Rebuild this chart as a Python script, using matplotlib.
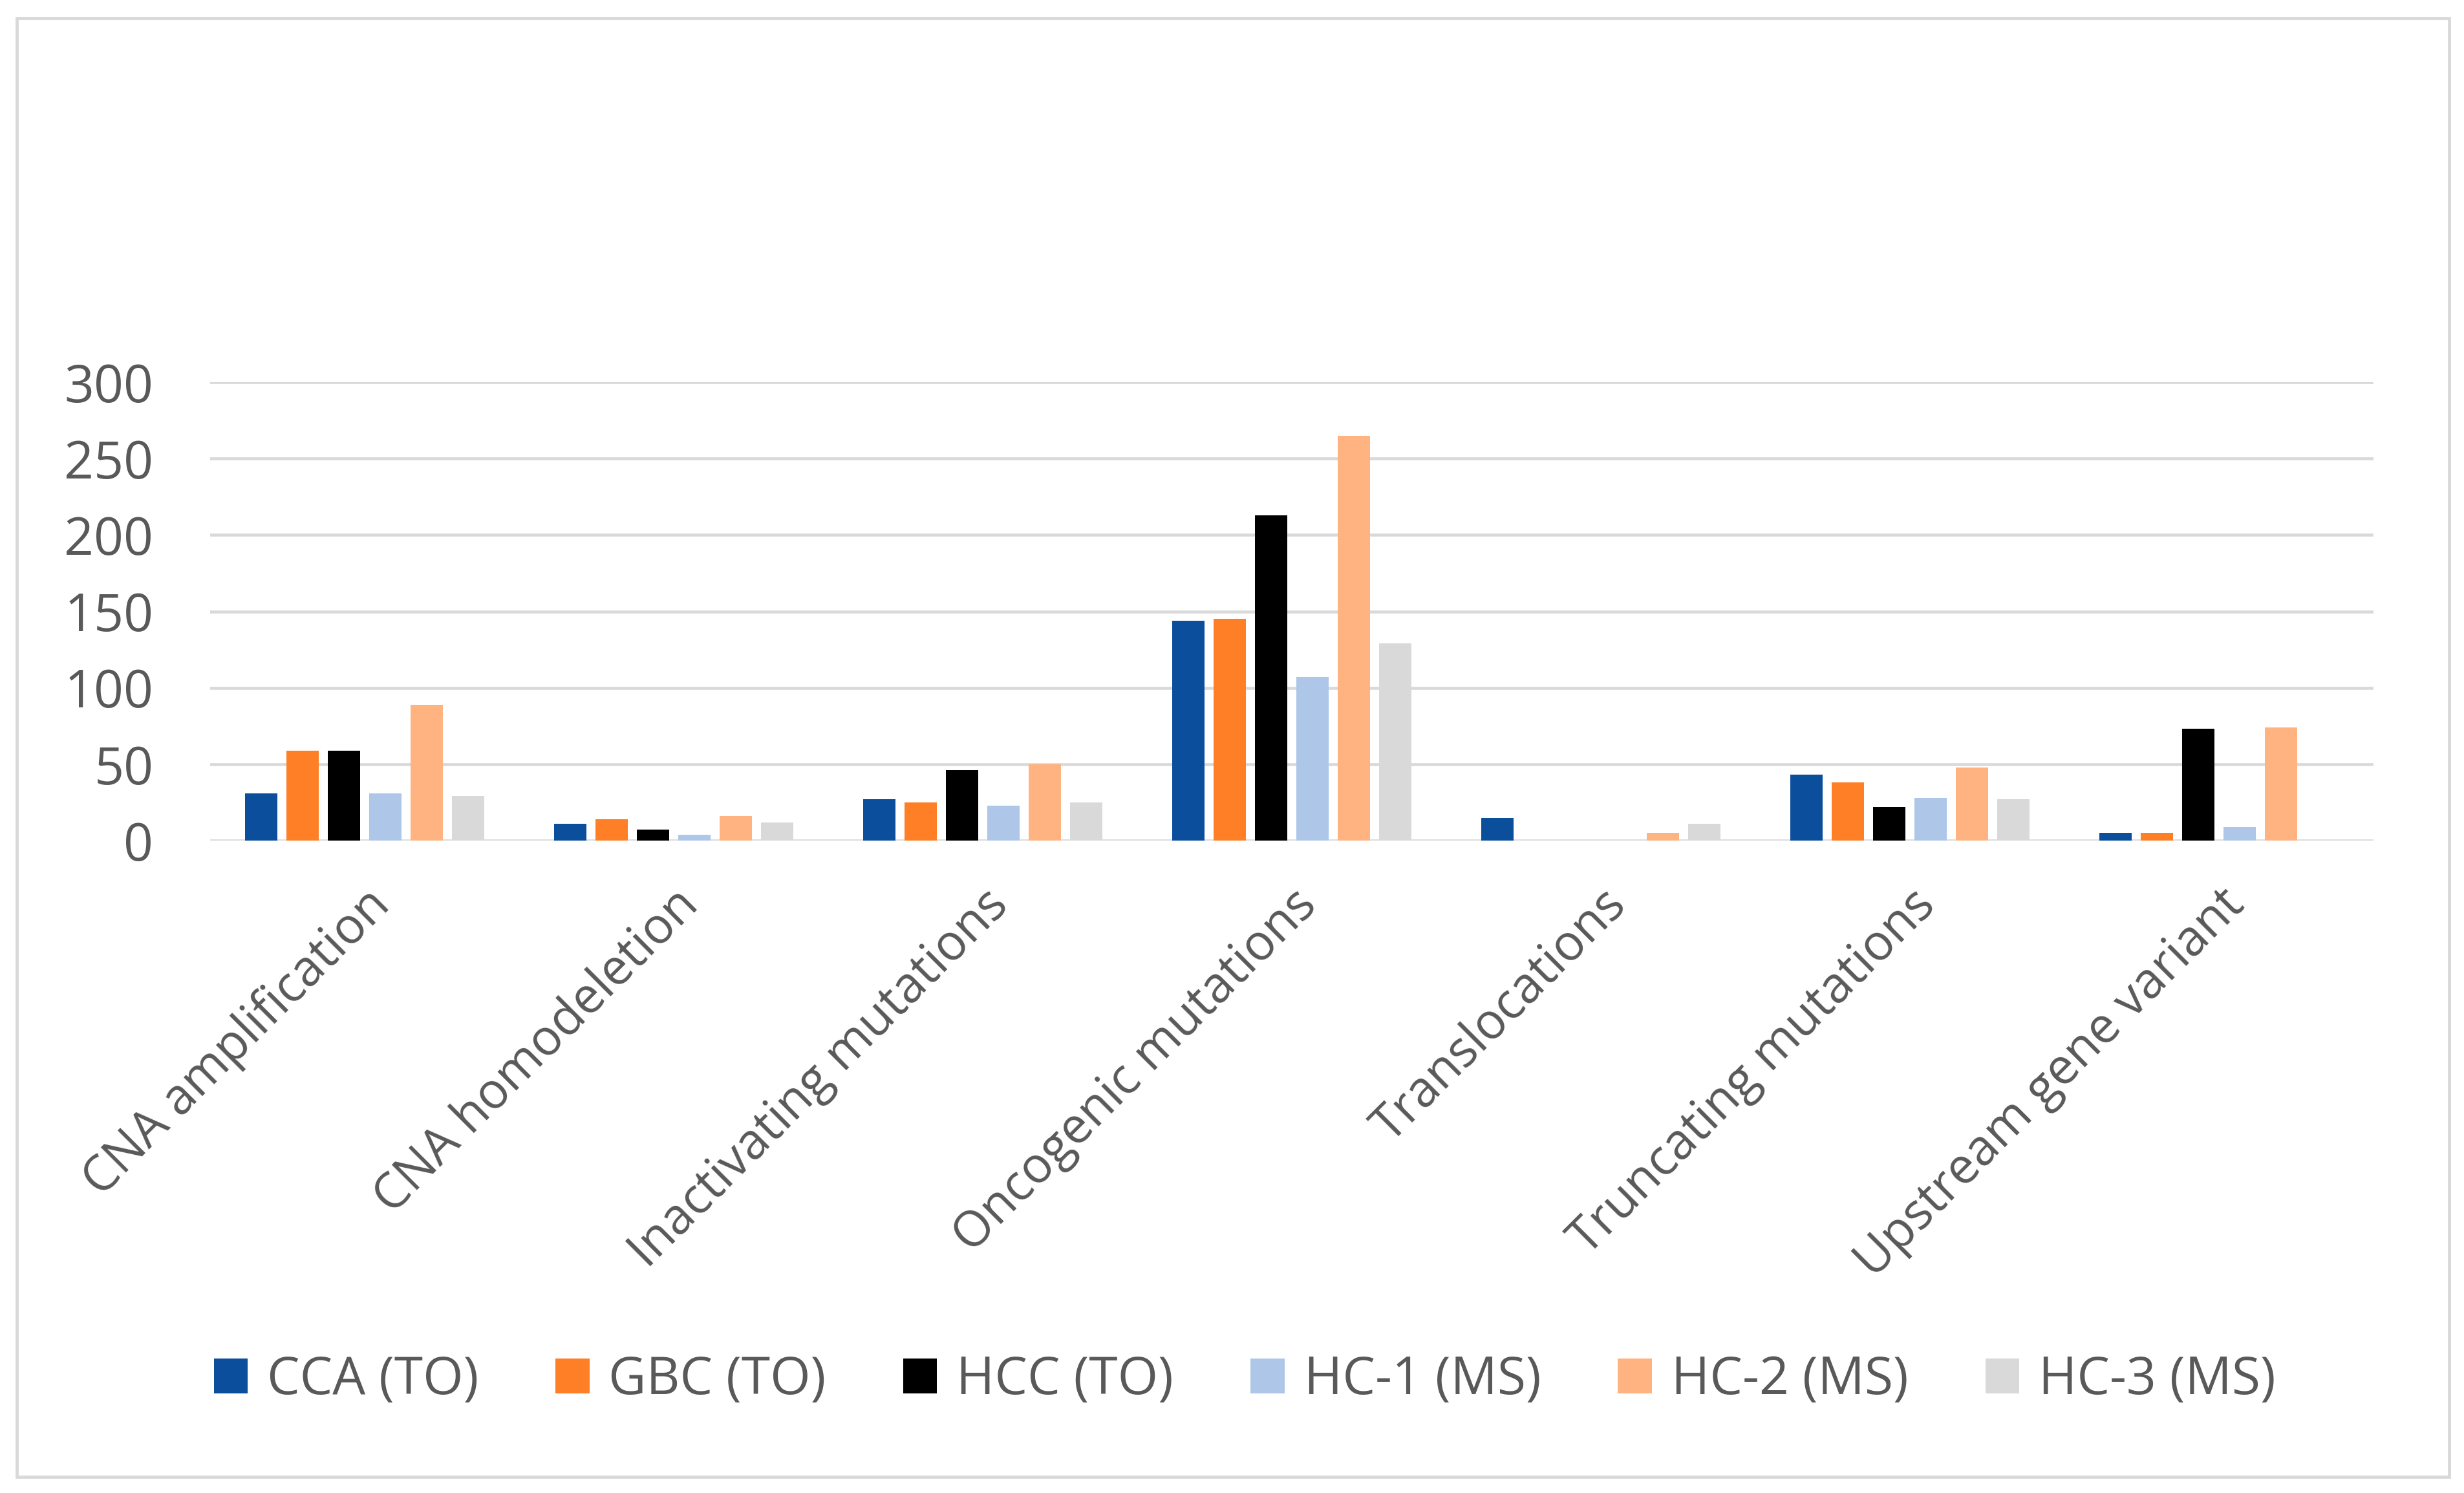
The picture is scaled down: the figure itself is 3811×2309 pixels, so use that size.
import matplotlib
matplotlib.use('Agg')
import matplotlib.pyplot as plt
from matplotlib.patches import Rectangle
import numpy as np

categories = ['CNA amplification', 'CNA homodeletion', 'Inactivating mutations',
              'Oncogenic mutations', 'Translocations', 'Truncating mutations',
              'Upstream gene variant']
series_names = ['CCA (TO)', 'GBC (TO)', 'HCC (TO)', 'HC-1 (MS)', 'HC-2 (MS)', 'HC-3 (MS)']
cca = [31, 11, 27, 144, 15, 43, 5]
gbc = [59, 14, 25, 145, 0, 38, 5]
hcc = [59, 7, 46, 213, 0, 22, 73]
hc1 = [31, 4, 23, 107, 0, 28, 9]
hc2 = [89, 16, 50, 265, 5, 48, 74]
hc3 = [29, 12, 25, 129, 11, 27, 0]
colors = ['#0B4F9C', '#FF7F27', '#000000', '#AEC7E8', '#FFB380', '#D9D9D9']
yticks = [0, 50, 100, 150, 200, 250, 300]

plt.rcParams['font.family'] = ['Open Sans', 'DejaVu Sans']
txt = '#595959'
fs = 58

W, H = 3812, 2309
fig = plt.figure(figsize=(W / 100, H / 100), dpi=100)
ax = fig.add_axes([325 / W, 1 - 1300 / H, (3671 - 325) / W, (1300 - 591) / H])

x = np.arange(len(categories))
data = [cca, gbc, hcc, hc1, hc2, hc3]
pitch = 0.134
for i, vals in enumerate(data):
    ax.bar(x + (i - 2.5) * pitch, vals, width=0.105, color=colors[i],
           label=series_names[i], zorder=3)

ax.set_xlim(-0.5, len(categories) - 0.5)
ax.set_ylim(0, 300)
ax.set_yticks(yticks)
ax.set_yticklabels([str(t) for t in yticks], fontsize=fs, color=txt)
ax.yaxis.grid(True, color='#D9D9D9', linewidth=3.3, zorder=0)
ax.set_axisbelow(True)
for s in ax.spines.values():
    s.set_visible(False)
ax.tick_params(axis='y', length=0, pad=63)
ax.tick_params(axis='x', length=0, pad=44)
ax.set_xticks(x)
ax.set_xticklabels(categories, fontsize=55, color=txt, rotation=45,
                   ha='right', va='top', rotation_mode='anchor')

leg = fig.legend(loc='center', bbox_to_anchor=(0.505, 1 - 2135 / H), ncol=6,
                 frameon=False, fontsize=fs, handlelength=0.65, handleheight=0.65,
                 handletextpad=0.37, columnspacing=1.48)
for t in leg.get_texts():
    t.set_color(txt)

fig.patches.append(Rectangle((26 / W, 1 - 2284 / H), (3788 - 26) / W, (2284 - 28) / H,
                             transform=fig.transFigure, fill=False,
                             edgecolor='#D9D9D9', linewidth=3.5))

fig.savefig('out.png', dpi=100, facecolor='white')
